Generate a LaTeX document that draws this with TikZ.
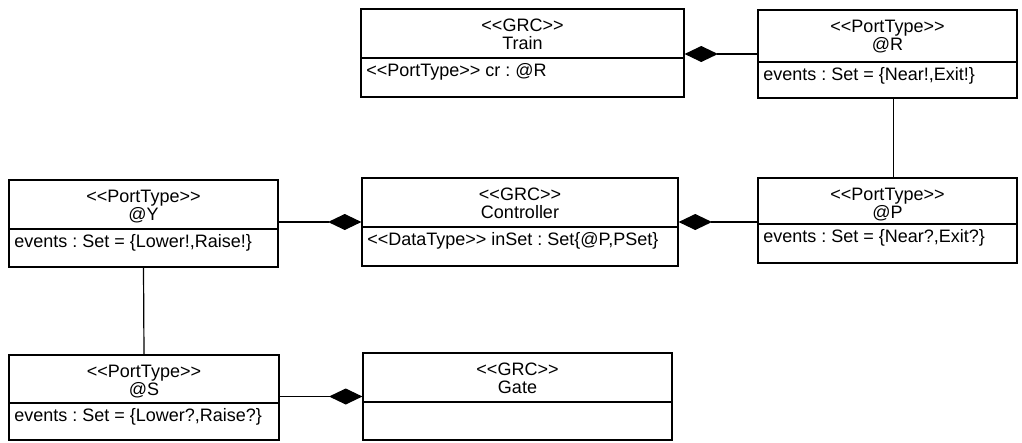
\documentclass[tikz,border=0pt]{standalone}
\usepackage{fontspec}
\setmainfont{Liberation Sans}
\usetikzlibrary{arrows.meta,fit}
\frenchspacing

% stereotype brackets, kept apart so no ligature turns them into guillemets
\newcommand\stereo[1]{<\kern0pt<#1>\kern0pt>}

\tikzset{
  classbox/.style={draw, line width=0.9pt, inner sep=0pt},
  divider/.style={line width=0.9pt},
  headtext/.style={inner sep=0pt, anchor=base, font=\fontsize{13.5pt}{16pt}\selectfont},
  attrtext/.style={inner sep=0pt, anchor=base west, font=\fontsize{13.5pt}{16pt}\selectfont},
  link/.style={draw, line width=0.9pt},
  comp/.style={draw, line width=0.9pt, -{Diamond[length=25pt,width=12pt]}},
}

% #1 name, #2..#5 corners (x1,y1,x2,y2), #6 divider y, #7 stereotype, #8 title, #9 attribute
\newcommand\umlclass[9]{%
  \coordinate (#1-nw) at (#2,#3);
  \coordinate (#1-se) at (#4,#5);
  \node[classbox, fit=(#1-nw)(#1-se)] (#1) {};
  \draw[divider] (#2,#6) -- (#4,#6);
  \node[headtext] (#1-stereo) at ({(#2+#4)/2},#3+22) {\stereo{#7}};
  \node[headtext] (#1-title) at ({(#2+#4)/2},#3+40.5) {#8};
  \node[attrtext] (#1-attr) at (#2+5,#6+18) {#9};
}

\begin{document}
\begin{tikzpicture}[x=0.75pt,y=-0.75pt]
  \useasboundingbox (0,0) rectangle (1022,443);

  \umlclass{Train}{361}{9}{684}{97}{58}{GRC}{Train}{\stereo{PortType} cr : @R}
  \umlclass{R}{758}{10}{1017}{98}{62}{PortType}{@R}{events : Set = \{Near!,Exit!\}}
  \umlclass{Ctrl}{362}{178}{678}{266}{227}{GRC}{Controller}{\stereo{DataType} inSet : Set\{@P,PSet\}}
  \umlclass{P}{758}{178}{1017}{263}{224}{PortType}{@P}{events : Set = \{Near?,Exit?\}}
  \umlclass{Y}{9}{180}{278}{267}{229}{PortType}{@Y}{events : Set = \{Lower!,Raise!\}}
  \umlclass{S}{9}{355}{279}{440}{403}{PortType}{@S}{events : Set = \{Lower?,Raise?\}}
  \umlclass{Gate}{363}{353}{672}{440}{402}{GRC}{Gate}{}

  % compositions, diamond on the owning class
  \draw[comp] (R.west) -- (R.west -| Train.east);
  \draw[comp] (P.west |- Ctrl.east) -- (Ctrl.east);
  \draw[comp] (Y.east |- Ctrl.west) -- (Ctrl.west);
  \draw[comp] (S.east |- Gate.west) -- (Gate.west);

  % plain associations between port types
  \draw[link] ([xshift=4.5]R.south) -- ([xshift=4.5]P.north);
  \draw[link] (Y.south) -- (S.north);
\end{tikzpicture}
\end{document}
